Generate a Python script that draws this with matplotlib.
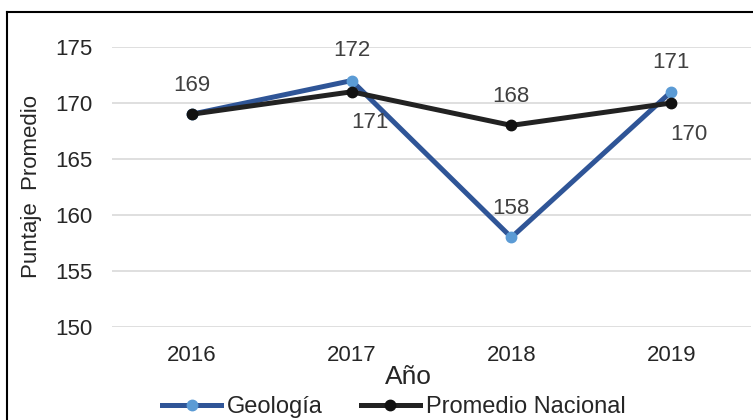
import matplotlib.pyplot as plt
from matplotlib.lines import Line2D

plt.rcParams['font.family'] = ['Liberation Sans', 'DejaVu Sans']

years = ['2016', '2017', '2018', '2019']
geologia = [169, 172, 158, 171]
nacional = [169, 171, 168, 170]

# label offsets in points (dx, dy) for each series
geo_offsets = [(0, 21), (0, 22), (0, 21), (0, 21)]
nac_offsets = [None, (13, -22), (0, 21), (13, -23)]

fig = plt.figure(figsize=(7.53, 4.20), dpi=100)
ax = fig.add_axes([112 / 753, 1 - 327 / 420, 639 / 753, 280 / 420])

x = range(len(years))
ax.plot(x, geologia, color='#2F5597', lw=3.6, marker='o', ms=7.5,
        mfc='#5B9BD5', mec='#5B9BD5', label='Geología', zorder=3)
ax.plot(x, nacional, color='#222222', lw=3.6, marker='o', ms=7.5,
        mfc='#111111', mec='#111111', label='Promedio Nacional', zorder=4)

for i, v in enumerate(geologia):
    dx, dy = geo_offsets[i]
    ax.annotate(str(v), (i, v), xytext=(dx, dy), textcoords='offset points',
                ha='center', va='center', fontsize=16, color='#404040')
for i, v in enumerate(nacional):
    if nac_offsets[i] is None:
        continue
    dx, dy = nac_offsets[i]
    ax.annotate(str(v), (i, v), xytext=(dx, dy), textcoords='offset points',
                ha='center', va='center', fontsize=16, color='#404040')

ax.set_xlim(-0.5, 3.5)
ax.set_ylim(150, 175)
ax.set_yticks([150, 155, 160, 165, 170, 175])
ax.set_xticks(list(x))
ax.set_xticklabels(years)
ax.grid(axis='y', color='#D9D9D9', lw=1.2)
ax.set_axisbelow(True)
for s in ax.spines.values():
    s.set_visible(False)
ax.tick_params(length=0, labelsize=16, colors='#262626')
ax.tick_params(axis='x', pad=13)
ax.tick_params(axis='y', pad=14)

fig.text(408 / 753, 1 - 377 / 420, 'Año', ha='center', va='center',
         fontsize=19, color='#262626')
fig.text(32 / 753, 1 - 187 / 420, 'Puntaje  Promedio', rotation=90,
         ha='center', va='center', fontsize=16, color='#262626')

ax.legend(loc='center', bbox_to_anchor=(394 / 753, 1 - 407 / 420),
          bbox_transform=fig.transFigure, ncol=2, frameon=False,
          fontsize=17, handlelength=2.5, columnspacing=1.6,
          handletextpad=0.25, labelcolor='#262626')

# chart frame (only top and left visible in the crop)
fig.add_artist(Line2D([7 / 753, 7 / 753], [0, 1 - 12 / 420],
                      transform=fig.transFigure, color='black', lw=1.5))
fig.add_artist(Line2D([7 / 753, 1], [1 - 12 / 420, 1 - 12 / 420],
                      transform=fig.transFigure, color='black', lw=1.5))

fig.savefig('out.png', dpi=100)
